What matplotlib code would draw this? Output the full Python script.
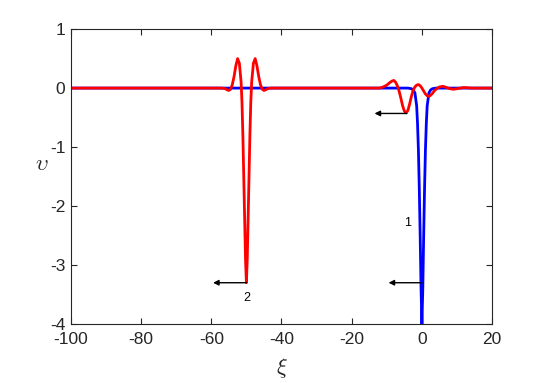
"""
plot.py - 两个孤立波剖面 v(ξ) 的对比图
"""

import matplotlib
matplotlib.use('Agg')
import matplotlib.pyplot as plt

plt.rcParams['font.family'] = ['Liberation Sans', 'DejaVu Sans']
plt.rcParams['mathtext.fontset'] = 'cm'
plt.rcParams['axes.unicode_minus'] = False  # 用普通连字符作负号

# ============ 曲线数据 ============
# 曲线 1（蓝色）：ξ = 0 处的单个深谷
xi_blue = [-100, -60, -56, -54, -52, -50, -48, -46, -44, -20, -6, -4, -3, -2.5, -2,
           -1.5, -1.25, -1, -0.75, -0.5, -0.25, 0, 0.25, 0.5, 0.75, 1, 1.25, 1.5,
           2, 2.5, 3, 4, 6, 20]
v_blue = [0, 0, 0, 0, 0, 0, 0, 0, 0, 0, 0, 0, -0.01, -0.03, -0.08,
          -0.3, -0.6, -1.05, -1.7, -2.5, -3.4, -4.0, -3.4, -2.5, -1.7, -1.05, -0.6, -0.3,
          -0.08, -0.03, -0.01, 0, 0, 0]

# 曲线 2（红色）：ξ = -50 处的谷 + ξ ≈ 0 附近的尾波
xi_red = [-100, -57, -56, -55.5, -55, -54.5, -54, -53.5, -53, -52.5, -52, -51.5,
          -51.25, -51, -50.75, -50.5, -50.25, -50, -49.75, -49.5, -49.25, -49,
          -48.75, -48.5, -48, -47.5, -47, -46.5, -46, -45.5, -45, -44.5, -44, -43,
          -14, -12, -11, -10, -9, -8.5, -8, -7.5, -7, -6.5, -6, -5.5, -5, -4.5, -4,
          -3.5, -3, -2.5, -2, -1.5, -1, -0.5, 0, 0.5, 1, 1.5, 2, 2.5, 3, 3.5, 4, 5,
          6, 7, 8, 9, 10, 11, 12, 14, 16, 20]
v_red = [0, 0, -0.01, -0.03, -0.04, -0.02, 0.06, 0.2, 0.38, 0.5, 0.42, 0.1,
         -0.25, -0.8, -1.5, -2.2, -2.9, -3.3, -2.9, -2.2, -1.5, -0.8,
         -0.25, 0.1, 0.42, 0.5, 0.38, 0.2, 0.06, -0.02, -0.04, -0.03, -0.01, 0,
         0, 0.0, 0.02, 0.05, 0.1, 0.12, 0.13, 0.1, 0.04, -0.05, -0.17, -0.3, -0.39, -0.42, -0.38,
         -0.27, -0.14, -0.04, 0.02, 0.05, 0.06, 0.04, 0.0, -0.05, -0.1, -0.13, -0.14, -0.12, -0.09, -0.05, -0.02, 0.02,
         0.03, 0.01, -0.01, -0.02, -0.01, 0.0, 0.01, 0.0, 0.0, 0]

# 箭头：(起点 ξ, 终点 ξ, 高度 v)
arrows = [(0, -9.5, -3.3), (-4.3, -13.5, -0.43), (-50, -59.5, -3.3)]
# 曲线编号
labels = [('1', -4.0, -2.28), ('2', -50.0, -3.56)]

xticks = [-100, -80, -60, -40, -20, 0, 20]
yticks = [-4, -3, -2, -1, 0, 1]
# ========================================

fig = plt.figure(figsize=(5.45, 3.83), dpi=100)
ax = fig.add_axes([0.130, 0.154, 0.773, 0.770])

ax.plot(xi_blue, v_blue, color='#0000ff', linewidth=2)
ax.plot(xi_red, v_red, color='#ff0000', linewidth=2)

for x0, x1, y in arrows:
    ax.annotate('', xy=(x1, y), xytext=(x0, y),
                arrowprops=dict(arrowstyle='-|>', color='black', lw=1,
                                mutation_scale=8, shrinkA=0, shrinkB=0))
for txt, x, y in labels:
    ax.text(x, y, txt, ha='center', va='center', fontsize=9)

ax.set_xlim(-100, 20)
ax.set_ylim(-4, 1)
ax.set_xticks(xticks)
ax.set_yticks(yticks)
ax.tick_params(direction='in', top=True, right=True, length=4, width=0.8,
               labelsize=12.5, colors='#262626')
ax.tick_params(axis='x', pad=6)
ax.tick_params(axis='y', pad=4)
for s in ax.spines.values():
    s.set_color('#262626')
    s.set_linewidth(0.8)

ax.set_xlabel(r'$\xi$', fontsize=16, color='#262626', labelpad=6)
ax.set_ylabel(r'$\upsilon$', fontsize=16, color='#262626', rotation=0)
ax.yaxis.set_label_coords(-0.069, 0.54)
ax.yaxis.label.set_va('center')

plt.savefig('out.png', dpi=100)
